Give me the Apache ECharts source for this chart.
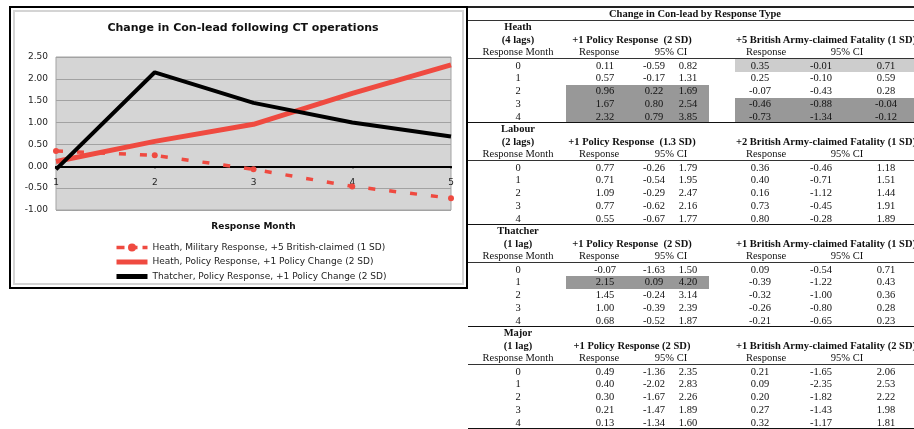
<!DOCTYPE html>
<html><head><meta charset="utf-8">
<script src="https://cdn.jsdelivr.net/npm/echarts@6/dist/echarts.min.js"></script>
<style>
html,body{margin:0;padding:0;background:#fff;width:914px;height:429px;overflow:hidden;position:relative;}
#box1{position:absolute;left:9px;top:6px;width:459px;height:283px;border:2px solid #000;box-sizing:border-box;}
#box2{position:absolute;left:13px;top:10px;width:451px;height:275px;border:2px solid #d4d4d4;box-sizing:border-box;}
#chart{position:absolute;left:0;top:0;width:470px;height:292px;}
#tbl{position:absolute;left:0;top:0;width:914px;height:429px;font-family:'Liberation Serif','Times New Roman',serif;font-size:10.5px;color:#111;}
.t{position:absolute;white-space:nowrap;transform:translate(-50%,-50%);line-height:1;}
.b{font-weight:bold;}
.r{position:absolute;}
</style></head><body>
<div id="box1"></div><div id="box2"></div>
<div id="chart"></div>
<div id="tbl"></div>
<script>
// ---------- data ----------
const chartMonths = ['1','2','3','4','5'];
const responseMonths = ['0','1','2','3','4'];
const tableTitle = 'Change in Con-lead by Response Type';
const blockNames = ['Heath','Labour','Thatcher','Major'];
const blockLags = ['(4 lags)','(2 lags)','(1 lag)','(1 lag)'];
const policyHeads = ['+1 Policy Response\u00a0 (2 SD)','+1 Policy Response\u00a0 (1.3 SD)','+1 Policy Response\u00a0 (2 SD)','+1 Policy Response (2 SD)'];
const fatalHeads = ['+5 British Army-claimed Fatality (1 SD)','+2 British Army-claimed Fatality (1 SD)','+1 British Army-claimed Fatality (1 SD)','+1 British Army-claimed Fatality (2 SD)'];
const seriesNames = ['Heath, Military Response, +5 British-claimed (1 SD)','Heath, Policy Response, +1 Policy Change (2 SD)','Thatcher, Policy Response, +1 Policy Change (2 SD)'];

const heathPolicyResp = [0.11, 0.57, 0.96, 1.67, 2.32];
const heathPolicyLo   = [-0.59, -0.17, 0.22, 0.80, 0.79];
const heathPolicyHi   = [0.82, 1.31, 1.69, 2.54, 3.85];
const heathFatalResp  = [0.35, 0.25, -0.07, -0.46, -0.73];
const heathFatalLo    = [-0.01, -0.10, -0.43, -0.88, -1.34];
const heathFatalHi    = [0.71, 0.59, 0.28, -0.04, -0.12];

const labourPolicyResp = [0.77, 0.71, 1.09, 0.77, 0.55];
const labourPolicyLo   = [-0.26, -0.54, -0.29, -0.62, -0.67];
const labourPolicyHi   = [1.79, 1.95, 2.47, 2.16, 1.77];
const labourFatalResp  = [0.36, 0.40, 0.16, 0.73, 0.80];
const labourFatalLo    = [-0.46, -0.71, -1.12, -0.45, -0.28];
const labourFatalHi    = [1.18, 1.51, 1.44, 1.91, 1.89];

const thatcherPolicyResp = [-0.07, 2.15, 1.45, 1.00, 0.68];
const thatcherPolicyLo   = [-1.63, 0.09, -0.24, -0.39, -0.52];
const thatcherPolicyHi   = [1.50, 4.20, 3.14, 2.39, 1.87];
const thatcherFatalResp  = [0.09, -0.39, -0.32, -0.26, -0.21];
const thatcherFatalLo    = [-0.54, -1.22, -1.00, -0.80, -0.65];
const thatcherFatalHi    = [0.71, 0.43, 0.36, 0.28, 0.23];

const majorPolicyResp = [0.49, 0.40, 0.30, 0.21, 0.13];
const majorPolicyLo   = [-1.36, -2.02, -1.67, -1.47, -1.34];
const majorPolicyHi   = [2.35, 2.83, 2.26, 1.89, 1.60];
const majorFatalResp  = [0.21, 0.09, 0.20, 0.27, 0.32];
const majorFatalLo    = [-1.65, -2.35, -1.82, -1.43, -1.17];
const majorFatalHi    = [2.06, 2.53, 2.22, 1.98, 1.81];

// shading: 0 none, 1 light, 2 dark
const heathPolicyShade    = [0,0,2,2,2];
const heathFatalShade     = [1,0,0,2,2];
const labourPolicyShade   = [0,0,0,0,0];
const labourFatalShade    = [0,0,0,0,0];
const thatcherPolicyShade = [0,2,0,0,0];
const thatcherFatalShade  = [0,0,0,0,0];
const majorPolicyShade    = [0,0,0,0,0];
const majorFatalShade     = [0,0,0,0,0];

// ---------- chart ----------
const FONT = 'DejaVu Sans';
const RED = '#ef4a40';
const chart = echarts.init(document.getElementById('chart'), null, {renderer:'canvas'});
chart.setOption({
  animation:false,
  title:{text:'Change in Con-lead following CT operations', left:238, top:18, textAlign:'center',
    textStyle:{fontFamily:FONT, fontSize:11, fontWeight:'bold', color:'#111'}},
  legend:{orient:'vertical', left:114, top:243, padding:0, itemWidth:31, itemHeight:10, itemGap:5.5,
    textStyle:{fontFamily:FONT, fontSize:9, color:'#222'},
    data:[
      {name:seriesNames[0], lineStyle:{width:3.5, type:[8,5]}},
      {name:seriesNames[1], itemStyle:{opacity:0}, lineStyle:{width:5}},
      {name:seriesNames[2], itemStyle:{opacity:0}, lineStyle:{width:5}}
    ]},
  grid:{left:56, right:19, top:57, height:153, show:true, backgroundColor:'#d5d5d5', borderColor:'#a3a3a3', borderWidth:1},
  xAxis:{type:'category', data:chartMonths, boundaryGap:false,
    axisLine:{onZero:true, lineStyle:{color:'#000', width:2}},
    axisTick:{show:true, length:2, lineStyle:{color:'#000', width:2}},
    axisLabel:{fontFamily:FONT, fontSize:9, color:'#222', margin:-32},
    name:'Response Month', nameLocation:'middle', nameGap:12,
    nameTextStyle:{fontFamily:FONT, fontSize:9, fontWeight:'bold', color:'#111'}},
  yAxis:{type:'value', min:-1, max:2.5, interval:0.5,
    axisLine:{show:false}, axisTick:{show:false},
    axisLabel:{fontFamily:FONT, fontSize:9, color:'#222', margin:8, formatter:v=>v.toFixed(2)},
    splitLine:{lineStyle:{color:'#a2a2a2', width:1}}},
  series:[
    {name:seriesNames[0], type:'line', data:heathFatalResp,
      symbol:'circle', symbolSize:6, color:RED, itemStyle:{color:RED},
      lineStyle:{color:RED, width:3.5, type:[7,14]}},
    {name:seriesNames[1], type:'line', data:heathPolicyResp,
      symbol:'none', color:RED, lineStyle:{color:RED, width:5}},
    {name:seriesNames[2], type:'line', data:thatcherPolicyResp,
      symbol:'none', color:'#000', lineStyle:{color:'#000', width:4}}
  ]
});

// ---------- table ----------
const tbl = document.getElementById('tbl');
function txt(x, y, s, bold){
  const d = document.createElement('div'); d.className = 't' + (bold ? ' b' : '');
  d.style.left = x + 'px'; d.style.top = y + 'px'; d.textContent = s; tbl.appendChild(d);
}
function rect(x, y, w, h, c){
  const d = document.createElement('div'); d.className = 'r';
  d.style.left = x + 'px'; d.style.top = y + 'px'; d.style.width = w + 'px'; d.style.height = h + 'px';
  d.style.background = c; tbl.appendChild(d);
}
const X0 = 468, XR = 914;
const rowH = 12.75, top0 = 20.5;
const colC = [518, 605, 654, 688, 760, 821, 886];
const grp1 = [566, 709], grp2 = [735, 930];
const shadeCol = ['transparent', '#cdcdcd', '#989898'];
const fmt = v => v.toFixed(2);

const blocks = [
  [heathPolicyResp, heathPolicyLo, heathPolicyHi, heathFatalResp, heathFatalLo, heathFatalHi, heathPolicyShade, heathFatalShade],
  [labourPolicyResp, labourPolicyLo, labourPolicyHi, labourFatalResp, labourFatalLo, labourFatalHi, labourPolicyShade, labourFatalShade],
  [thatcherPolicyResp, thatcherPolicyLo, thatcherPolicyHi, thatcherFatalResp, thatcherFatalLo, thatcherFatalHi, thatcherPolicyShade, thatcherFatalShade],
  [majorPolicyResp, majorPolicyLo, majorPolicyHi, majorFatalResp, majorFatalLo, majorFatalHi, majorPolicyShade, majorFatalShade]
];

// title
rect(X0, 6, XR - X0, 1.5, '#222');
txt(695, 14, tableTitle, true);
rect(X0, 20, XR - X0, 1, '#333');

blocks.forEach((b, bi) => {
  const y0 = top0 + bi * 8 * rowH;
  txt(colC[0], y0 + 0.5 * rowH, blockNames[bi], true);
  txt(colC[0], y0 + 1.5 * rowH, blockLags[bi], true);
  txt(632, y0 + 1.5 * rowH, policyHeads[bi], true);
  txt(826, y0 + 1.5 * rowH, fatalHeads[bi], true);
  txt(colC[0], y0 + 2.5 * rowH, 'Response Month');
  txt(599, y0 + 2.5 * rowH, 'Response');
  txt(671, y0 + 2.5 * rowH, '95% CI');
  txt(766, y0 + 2.5 * rowH, 'Response');
  txt(847, y0 + 2.5 * rowH, '95% CI');
  rect(X0, y0 + 3 * rowH - 0.5, XR - X0, 1, '#333');
  responseMonths.forEach((m, i) => {
    const ry = y0 + (3 + i) * rowH;
    if (b[6][i]) rect(grp1[0], ry + 0.5, grp1[1] - grp1[0], rowH, shadeCol[b[6][i]]);
    if (b[7][i]) rect(grp2[0], ry + 0.5, grp2[1] - grp2[0], rowH, shadeCol[b[7][i]]);
    const cy = ry + 0.5 * rowH + 0.5;
    txt(colC[0], cy, m);
    for (let k = 0; k < 6; k++) txt(colC[k + 1], cy, fmt(b[k][i]));
  });
  rect(X0, y0 + 8 * rowH - 0.5, XR - X0, 1.3, '#111');
});
</script>
</body></html>
